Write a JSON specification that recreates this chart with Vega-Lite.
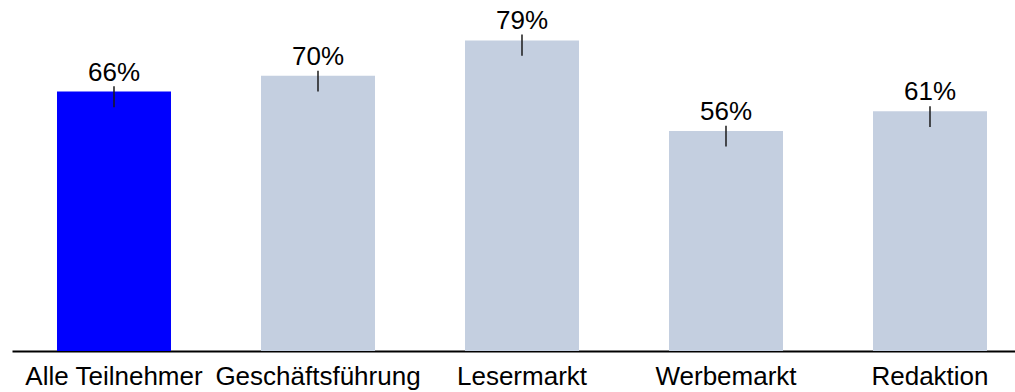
{
  "$schema": "https://vega.github.io/schema/vega-lite/v6.json",
  "width": 1003,
  "height": 351,
  "padding": {"left": 12, "top": 0, "right": 0, "bottom": 41},
  "autosize": {"type": "none"},
  "background": "white",
  "config": {"view": {"stroke": null}, "font": "Liberation Sans"},
  "data": {
    "values": [
      {"cat": "Alle Teilnehmer", "value": 0.66, "lo": 0.620, "hi": 0.6735},
      {"cat": "Geschäftsführung", "value": 0.70, "lo": 0.660, "hi": 0.713},
      {"cat": "Lesermarkt", "value": 0.79, "lo": 0.751, "hi": 0.805},
      {"cat": "Werbemarkt", "value": 0.56, "lo": 0.520, "hi": 0.573},
      {"cat": "Redaktion", "value": 0.61, "lo": 0.570, "hi": 0.623}
    ]
  },
  "encoding": {
    "x": {
      "field": "cat",
      "type": "nominal",
      "sort": null,
      "scale": {"paddingInner": 0.44118, "paddingOuter": 0.178921, "align": 0.6164},
      "axis": {
        "title": null,
        "labelAngle": 0,
        "labelFontSize": 26,
        "labelFont": "Liberation Sans",
        "labelColor": "#000000",
        "labelLimit": 0,
        "labelOverlap": false,
        "ticks": false,
        "tickSize": 0,
        "labelPadding": 12,
        "domainColor": "#000000",
        "domainWidth": 2,
        "grid": false
      }
    }
  },
  "layer": [
    {
      "mark": {"type": "bar"},
      "encoding": {
        "y": {"field": "value", "type": "quantitative", "scale": {"domain": [0, 0.893], "nice": false, "zero": true}, "axis": null},
        "color": {
          "field": "cat",
          "type": "nominal",
          "scale": {
            "domain": ["Alle Teilnehmer", "Geschäftsführung", "Lesermarkt", "Werbemarkt", "Redaktion"],
            "range": ["#0000FF", "#C4CFE0", "#C4CFE0", "#C4CFE0", "#C4CFE0"]
          },
          "legend": null
        }
      }
    },
    {
      "mark": {"type": "rule", "strokeWidth": 1.5, "color": "#1a1a1a"},
      "encoding": {
        "y": {"field": "lo", "type": "quantitative"},
        "y2": {"field": "hi"}
      }
    },
    {
      "mark": {"type": "text", "fontSize": 26, "font": "Liberation Sans", "baseline": "alphabetic", "align": "center", "dy": -11, "color": "#000000"},
      "encoding": {
        "y": {"field": "value", "type": "quantitative"},
        "text": {"field": "value", "type": "quantitative", "format": ".0%"}
      }
    }
  ]
}
